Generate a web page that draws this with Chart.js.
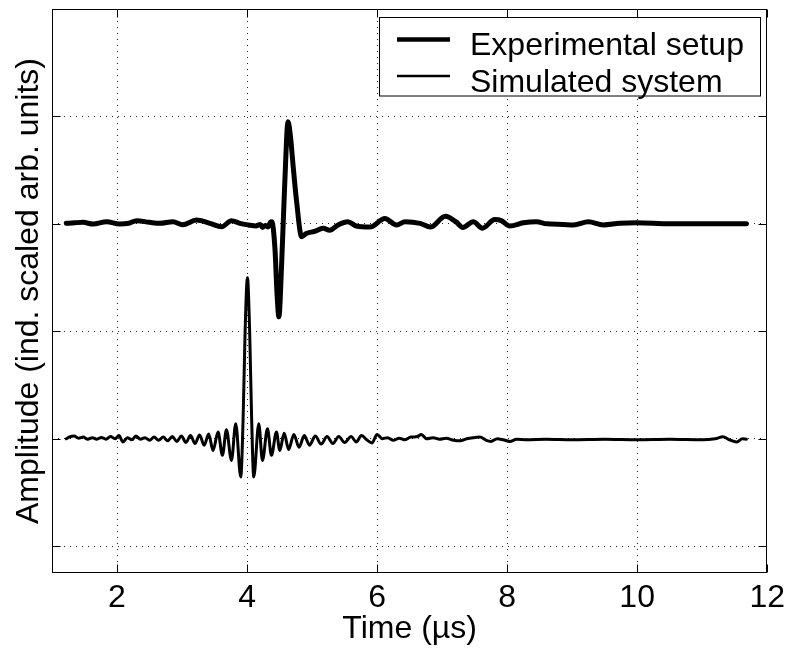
<!DOCTYPE html>
<html>
<head>
<meta charset="utf-8">
<script src="https://cdn.jsdelivr.net/npm/chart.js@4/dist/chart.umd.min.js"></script>
<style>
  html, body { margin: 0; padding: 0; background: #fff; }
  #wrap { width: 791px; height: 652px; }
</style>
</head>
<body>
<div id="wrap"><canvas id="chart" width="791" height="652"></canvas></div>
<script>
const seriesNames = ['Experimental setup', 'Simulated system'];
const xTicks = [2, 4, 6, 8, 10, 12];
const yGrid = [0, 1, 2, 3, 4];

// experimental trace (thick), offset to 3 on the amplitude axis
const expTime = [1.22, 1.35, 1.48, 1.63, 1.84, 2.04, 2.18, 2.30, 2.50, 2.66, 2.86, 3.01, 3.22, 3.43, 3.61, 3.76, 3.89,
  4.02, 4.14, 4.20, 4.24, 4.28, 4.32, 4.36, 4.38, 4.43, 4.46, 4.49, 4.53, 4.58, 4.63, 4.67, 4.71, 4.76, 4.84,
  4.91, 5.04, 5.17, 5.27, 5.40, 5.55, 5.68, 5.89, 6.12, 6.30, 6.43, 6.66, 6.82, 7.05, 7.21, 7.32, 7.48, 7.62,
  7.81, 7.91, 8.04, 8.25, 8.45, 8.61, 8.86, 9.02, 9.25, 9.48, 9.73, 9.99, 10.5, 11.0, 11.68];
const expAmp = [3.005, 3.01, 3.014, 2.998, 3.02, 2.998, 3.005, 3.029, 3.014, 3.005, 3.02, 2.992, 3.035, 3.005, 2.973, 3.029, 3.005,
  2.99, 2.98, 2.995, 2.967, 2.985, 2.97, 3.015, 3.02, 2.76, 2.36, 2.135, 2.60, 3.38, 3.95, 3.80, 3.53, 3.22, 2.88,
  2.91, 2.93, 2.96, 2.94, 2.99, 3.02, 2.98, 2.97, 3.05, 2.99, 3.02, 3.005, 2.97, 3.07, 3.02, 2.967, 3.02, 2.96,
  3.04, 3.03, 2.98, 3.01, 3.02, 3.0, 2.995, 2.99, 3.02, 2.99, 3.005, 3.01, 3.0, 3.0, 3.0];

// simulated trace (thin), offset to 1
const simTime = [1.22, 1.28, 1.34, 1.41, 1.48, 1.55, 1.62, 1.69, 1.76, 1.83, 1.90, 1.97, 2.03, 2.09, 2.16, 2.23,
  2.29, 2.36, 2.43, 2.50, 2.57, 2.64, 2.71, 2.78, 2.85, 2.92, 2.99, 3.06, 3.13, 3.20, 3.27, 3.34, 3.41,
  3.477, 3.554, 3.621, 3.683, 3.760, 3.826, 3.903, 3.94, 3.97, 4.006, 4.04, 4.07, 4.103, 4.180, 4.237, 4.314,
  4.375, 4.452, 4.503, 4.57, 4.64, 4.72, 4.80, 4.88, 4.96, 5.05, 5.14, 5.23, 5.32, 5.41, 5.50, 5.60, 5.68,
  5.76, 5.85, 5.92, 6.00, 6.08, 6.16, 6.25, 6.34, 6.42, 6.52, 6.62, 6.68, 6.76, 6.86, 6.96, 7.06, 7.18,
  7.28, 7.38, 7.48, 7.58, 7.68, 7.75, 7.85, 7.94, 8.04, 8.15, 8.3, 8.6, 9.0, 9.5, 10.0, 10.5, 11.0, 11.2,
  11.32, 11.42, 11.53, 11.62, 11.68];
const simAmp = [1.0, 1.02, 1.025, 1.005, 1.015, 0.995, 1.01, 0.995, 1.012, 0.995, 1.02, 1.0, 1.03, 0.97, 1.01, 0.99,
  1.025, 0.995, 1.01, 0.985, 1.015, 0.985, 1.015, 0.98, 1.02, 0.975, 1.025, 0.965, 1.03, 0.955, 1.035, 0.94, 1.045,
  0.891, 1.062, 0.845, 1.084, 0.798, 1.140, 0.643, 1.2, 2.0, 2.499, 2.0, 1.2, 0.643, 1.140, 0.798, 1.093,
  0.845, 1.062, 0.891, 1.05, 0.90, 1.04, 0.92, 1.03, 0.94, 1.025, 0.95, 1.02, 0.955, 1.02, 0.965, 1.02, 0.97,
  1.03, 0.985, 0.96, 1.04, 1.0, 1.01, 0.985, 1.005, 0.99, 1.015, 1.02, 1.04, 1.0, 1.01, 0.995, 1.005, 0.985,
  0.98, 1.0, 1.01, 1.015, 0.985, 0.975, 1.0, 0.99, 0.975, 0.995, 0.99, 0.995, 0.99, 0.995, 0.99, 0.995, 0.99, 1.0,
  1.018, 0.99, 0.97, 1.0, 0.996];

const lineWidths = [5, 3];
const FONT = '"Liberation Sans", Arial, Helvetica, sans-serif';
const FONT_SIZE = 32;

function toPoints(xs, ys) {
  return xs.map((x, i) => ({ x: x, y: ys[i] }));
}

// box round the plot and inward tick marks like the original
const framePlugin = {
  id: 'frame',
  afterDraw(chart) {
    const { ctx, chartArea } = chart;
    const xs = chart.scales.x;
    const ys = chart.scales.y;
    const l = Math.round(chartArea.left) + 0.5;
    const r = Math.round(chartArea.right) - 0.5;
    const t = Math.round(chartArea.top) + 0.5;
    const b = Math.round(chartArea.bottom) - 0.5;
    const tick = 8;
    ctx.save();
    ctx.strokeStyle = '#000';
    ctx.lineWidth = 1;
    ctx.beginPath();
    xTicks.forEach(v => {
      const px = Math.round(xs.getPixelForValue(v)) + 0.5;
      ctx.moveTo(px, b); ctx.lineTo(px, b - tick);
      ctx.moveTo(px, t); ctx.lineTo(px, t + tick);
    });
    yGrid.forEach(v => {
      const py = Math.round(ys.getPixelForValue(v)) + 0.5;
      ctx.moveTo(l, py); ctx.lineTo(l + tick, py);
      ctx.moveTo(r, py); ctx.lineTo(r - tick, py);
    });
    ctx.stroke();
    ctx.strokeRect(l, t, r - l, b - t);
    ctx.restore();
  }
};

// boxed legend in the upper right corner
const legendPlugin = {
  id: 'boxLegend',
  afterDraw(chart) {
    const { ctx } = chart;
    const bx = 379.5, by = 17.5, bw = 381, bh = 78.5;
    ctx.save();
    ctx.fillStyle = '#fff';
    ctx.fillRect(bx, by, bw, bh);
    ctx.strokeStyle = '#000';
    ctx.lineWidth = 1;
    ctx.strokeRect(bx, by, bw, bh);
    const rowsY = [39.5, 76];
    const textY = [55, 91.5];
    ctx.font = FONT_SIZE + 'px ' + FONT;
    ctx.fillStyle = '#000';
    ctx.textBaseline = 'alphabetic';
    chart.data.datasets.forEach((ds, i) => {
      ctx.lineWidth = i === 0 ? 4.5 : 2.5;
      ctx.beginPath();
      ctx.moveTo(397, rowsY[i]);
      ctx.lineTo(450, rowsY[i]);
      ctx.stroke();
      ctx.fillText(ds.label, 470, textY[i]);
    });
    ctx.restore();
  }
};

const ctx = document.getElementById('chart').getContext('2d');

new Chart(ctx, {
  type: 'line',
  data: {
    datasets: [
      {
        label: seriesNames[0],
        data: toPoints(expTime, expAmp),
        borderColor: '#000',
        borderWidth: lineWidths[0],
        pointRadius: 0,
        cubicInterpolationMode: 'monotone',
        borderJoinStyle: 'round',
        borderCapStyle: 'round'
      },
      {
        label: seriesNames[1],
        data: toPoints(simTime, simAmp),
        borderColor: '#000',
        borderWidth: lineWidths[1],
        pointRadius: 0,
        cubicInterpolationMode: 'monotone',
        borderJoinStyle: 'round',
        borderCapStyle: 'round'
      }
    ]
  },
  options: {
    responsive: false,
    animation: false,
    devicePixelRatio: 1,
    layout: { padding: { left: 0, right: 23, top: 9, bottom: 0 } },
    plugins: {
      legend: { display: false },
      tooltip: { enabled: false }
    },
    scales: {
      x: {
        type: 'linear',
        min: 1,
        max: 12,
        afterBuildTicks: s => { s.ticks = xTicks.map(v => ({ value: v })); },
        afterFit: s => { s.height = 79; },
        grid: {
          drawTicks: false,
          color: c => (c.tick && c.tick.value >= 12) ? 'rgba(0,0,0,0)' : '#222',
          lineWidth: 1
        },
        border: { display: false, dash: [1, 5] },
        ticks: {
          color: '#000',
          font: { family: FONT, size: FONT_SIZE },
          padding: 6,
          maxRotation: 0,
          autoSkip: false
        },
        title: {
          display: true,
          text: 'Time (µs)',
          color: '#000',
          font: { family: FONT, size: FONT_SIZE },
          padding: { top: 0, bottom: 4 }
        }
      },
      y: {
        type: 'linear',
        min: -0.25,
        max: 5,
        afterBuildTicks: s => { s.ticks = yGrid.map(v => ({ value: v })); },
        afterFit: s => { s.width = 52; },
        grid: {
          drawTicks: false,
          color: '#222',
          lineWidth: 1
        },
        border: { display: false, dash: [1, 5] },
        ticks: { display: false },
        title: {
          display: true,
          text: 'Amplitude (ind. scaled arb. units)',
          color: '#000',
          font: { family: FONT, size: FONT_SIZE },
          padding: { top: 10, bottom: 0 }
        }
      }
    }
  },
  plugins: [framePlugin, legendPlugin]
});
</script>
</body>
</html>
